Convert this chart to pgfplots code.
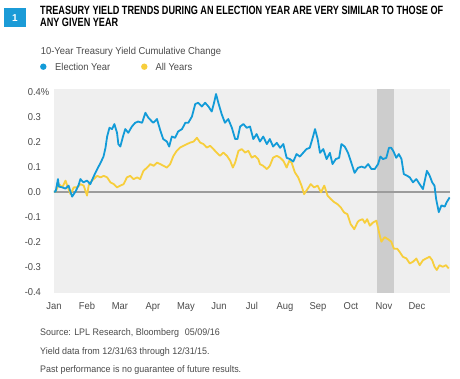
\documentclass[border=0pt]{standalone}
\usepackage{pgfplots}
\pgfplotsset{compat=1.18}
\usepackage{fontspec}
\setmainfont{Liberation Sans}
\newfontfamily\condfont[FakeStretch=0.94]{Liberation Sans}
\newfontfamily\titlefont[FakeStretch=0.76]{Liberation Sans}
\definecolor{eyblue}{HTML}{129BD8}
\definecolor{allyel}{HTML}{F7CE3C}
\definecolor{bgcol}{HTML}{EFEFEF}
\definecolor{bandcol}{HTML}{CDCDCD}
\definecolor{zerocol}{HTML}{9C9C9C}
\definecolor{txtcol}{HTML}{4A4A4A}
\definecolor{boxblue}{HTML}{1B9BD7}

\pgfplotstableread{
x y
0.00 0.000
0.05 0.000
0.12 0.050
0.15 0.020
0.25 0.017
0.35 0.012
0.44 0.024
0.55 -0.020
0.65 0.000
0.74 0.024
0.80 0.050
0.89 0.037
1.00 0.044
1.10 0.030
1.20 0.060
1.31 0.090
1.41 0.115
1.50 0.140
1.56 0.175
1.61 0.220
1.68 0.255
1.76 0.250
1.83 0.270
1.91 0.235
1.95 0.190
2.01 0.180
2.09 0.220
2.16 0.250
2.25 0.235
2.36 0.260
2.46 0.275
2.55 0.280
2.67 0.275
2.77 0.315
2.86 0.295
2.97 0.280
3.01 0.275
3.12 0.290
3.22 0.245
3.31 0.210
3.42 0.200
3.49 0.180
3.57 0.220
3.67 0.215
3.76 0.240
3.88 0.250
3.98 0.275
4.07 0.275
4.18 0.300
4.28 0.350
4.37 0.355
4.48 0.340
4.58 0.355
4.68 0.340
4.78 0.320
4.85 0.355
4.91 0.390
4.98 0.355
5.08 0.310
5.18 0.275
5.28 0.290
5.39 0.255
5.49 0.210
5.56 0.210
5.64 0.260
5.74 0.270
5.84 0.255
5.94 0.260
6.04 0.210
6.14 0.230
6.24 0.200
6.34 0.220
6.45 0.190
6.54 0.210
6.64 0.180
6.75 0.195
6.85 0.175
6.95 0.190
7.05 0.135
7.15 0.130
7.25 0.120
7.35 0.150
7.45 0.140
7.55 0.155
7.65 0.170
7.75 0.175
7.85 0.220
7.91 0.250
7.99 0.210
8.06 0.155
8.16 0.170
8.26 0.130
8.36 0.155
8.44 0.110
8.54 0.130
8.64 0.135
8.71 0.190
8.81 0.180
8.91 0.155
9.01 0.115
9.11 0.075
9.21 0.095
9.32 0.100
9.42 0.095
9.52 0.110
9.62 0.090
9.72 0.090
9.82 0.110
9.89 0.140
9.97 0.130
10.07 0.135
10.15 0.175
10.22 0.175
10.29 0.160
10.37 0.135
10.45 0.150
10.53 0.130
10.60 0.070
10.68 0.065
10.78 0.057
10.88 0.037
10.98 0.050
11.08 0.030
11.18 0.010
11.30 0.083
11.38 0.065
11.46 0.037
11.53 0.024
11.58 -0.030
11.66 -0.082
11.74 -0.055
11.84 -0.060
11.90 -0.042
11.99 -0.023
}\electiontbl

\pgfplotstableread{
x y
0.00 0.000
0.05 0.000
0.15 0.030
0.25 0.017
0.35 0.044
0.40 0.024
0.50 -0.010
0.60 0.017
0.70 0.017
0.80 0.030
0.90 0.024
1.00 -0.016
1.05 0.024
1.10 0.037
1.20 0.050
1.31 0.063
1.41 0.057
1.51 0.063
1.61 0.057
1.71 0.037
1.81 0.030
1.91 0.017
2.01 0.024
2.11 0.030
2.21 0.057
2.31 0.063
2.41 0.050
2.52 0.057
2.61 0.050
2.71 0.083
2.82 0.096
2.92 0.110
3.02 0.103
3.12 0.116
3.22 0.110
3.32 0.103
3.42 0.096
3.52 0.110
3.62 0.143
3.72 0.163
3.82 0.176
3.92 0.183
4.03 0.190
4.13 0.196
4.23 0.200
4.33 0.215
4.43 0.196
4.53 0.190
4.63 0.176
4.73 0.183
4.83 0.170
4.93 0.156
5.03 0.143
5.13 0.156
5.24 0.143
5.34 0.123
5.42 0.096
5.49 0.116
5.59 0.163
5.69 0.170
5.79 0.156
5.89 0.163
5.99 0.136
6.09 0.143
6.19 0.130
6.24 0.110
6.34 0.103
6.45 0.090
6.54 0.103
6.64 0.136
6.75 0.143
6.85 0.136
6.95 0.123
7.05 0.096
7.13 0.123
7.20 0.116
7.30 0.077
7.40 0.057
7.50 0.024
7.58 -0.010
7.68 0.010
7.78 0.030
7.88 0.017
7.99 0.024
8.09 -0.003
8.19 0.024
8.29 -0.016
8.39 -0.030
8.49 -0.042
8.59 -0.050
8.69 -0.063
8.79 -0.083
8.89 -0.090
8.99 -0.130
9.10 -0.150
9.20 -0.122
9.24 -0.116
9.35 -0.110
9.42 -0.125
9.49 -0.110
9.57 -0.136
9.67 -0.123
9.77 -0.116
9.85 -0.163
9.92 -0.200
10.02 -0.182
10.12 -0.190
10.22 -0.200
10.30 -0.228
10.40 -0.228
10.47 -0.240
10.57 -0.260
10.68 -0.267
10.78 -0.287
10.88 -0.280
10.98 -0.267
11.08 -0.294
11.18 -0.274
11.28 -0.267
11.38 -0.260
11.46 -0.274
11.53 -0.300
11.60 -0.313
11.68 -0.294
11.78 -0.300
11.88 -0.294
11.96 -0.307
}\alltbl

\begin{document}
\begin{tikzpicture}[x=1pt,y=1pt]
\path (0,0) rectangle (460,378);
% title block
\fill[boxblue] (4,351) rectangle (25.7,369.7);
\node[text=white, font=\bfseries\fontsize{10}{12}\selectfont] at (14.85,360.3) {1};
\node[anchor=base west, inner sep=0pt, font=\titlefont\bfseries\fontsize{12}{14}\selectfont] at (40,363) {TREASURY YIELD TRENDS DURING AN ELECTION YEAR ARE VERY SIMILAR TO THOSE OF};
\node[anchor=base west, inner sep=0pt, font=\titlefont\bfseries\fontsize{12}{14}\selectfont] at (40,351.3) {ANY GIVEN YEAR};
% subtitle and legend
\node[anchor=base west, inner sep=0pt, text=txtcol, font=\condfont\fontsize{10}{12}\selectfont] at (40.7,323) {10-Year Treasury Yield Cumulative Change};
\fill[eyblue] (43.3,311.3) circle (3.2);
\node[anchor=base west, inner sep=0pt, text=txtcol, font=\condfont\fontsize{10}{12}\selectfont] at (55,307.8) {Election Year};
\fill[allyel] (144.3,311.3) circle (3.2);
\node[anchor=base west, inner sep=0pt, text=txtcol, font=\condfont\fontsize{10}{12}\selectfont] at (155.3,307.8) {All Years};
% source
\node[anchor=base west, inner sep=0pt, text=txtcol, font=\condfont\fontsize{9.5}{11}\selectfont] at (40,43) {Source: LPL Research, Bloomberg\hspace{6pt}05/09/16};
\node[anchor=base west, inner sep=0pt, text=txtcol, font=\condfont\fontsize{9.5}{11}\selectfont] at (40,24) {Yield data from 12/31/63 through 12/31/15.};
\node[anchor=base west, inner sep=0pt, text=txtcol, font=\condfont\fontsize{9.5}{11}\selectfont] at (40,5.5) {Past performance is no guarantee of future results.};

\begin{axis}[
  at={(54pt,85pt)}, anchor=south west,
  width=396pt, height=204pt, scale only axis,
  xmin=0, xmax=12, ymin=-0.405, ymax=0.41,
  axis background/.style={fill=bgcol},
  axis line style={draw=none},
  major tick length=0pt,
  xtick={0,1,2,3,4,5,6,7,8,9,10,11},
  xticklabels={Jan,Feb,Mar,Apr,May,Jun,Jul,Aug,Sep,Oct,Nov,Dec},
  ytick={-0.4,-0.3,-0.2,-0.1,0,0.1,0.2,0.3,0.4},
  yticklabels={\llap{-}0.4,\llap{-}0.3,\llap{-}0.2,\llap{-}0.1,0.0,0.1,0.2,0.3,0.4\%},
  xticklabel style={anchor=base, inner sep=0pt, yshift=-16pt, text=txtcol, font=\condfont\fontsize{10}{12}\selectfont},
  yticklabel style={anchor=base west, inner sep=0pt, xshift=-26.3pt, yshift=-3.6pt, text=txtcol, font=\condfont\fontsize{10}{12}\selectfont},
  clip=true,
]
\addplot[draw=none, fill=bandcol] coordinates {(9.79,-0.405) (10.3,-0.405) (10.3,0.41) (9.79,0.41)} -- cycle;
\addplot[zerocol, line width=1.8pt] coordinates {(0,0) (12,0)};
\addplot[allyel, line width=1.8pt, line join=round] table[x=x,y=y] {\alltbl};
\addplot[eyblue, line width=1.8pt, line join=round] table[x=x,y=y] {\electiontbl};
\end{axis}
\end{tikzpicture}
\end{document}
